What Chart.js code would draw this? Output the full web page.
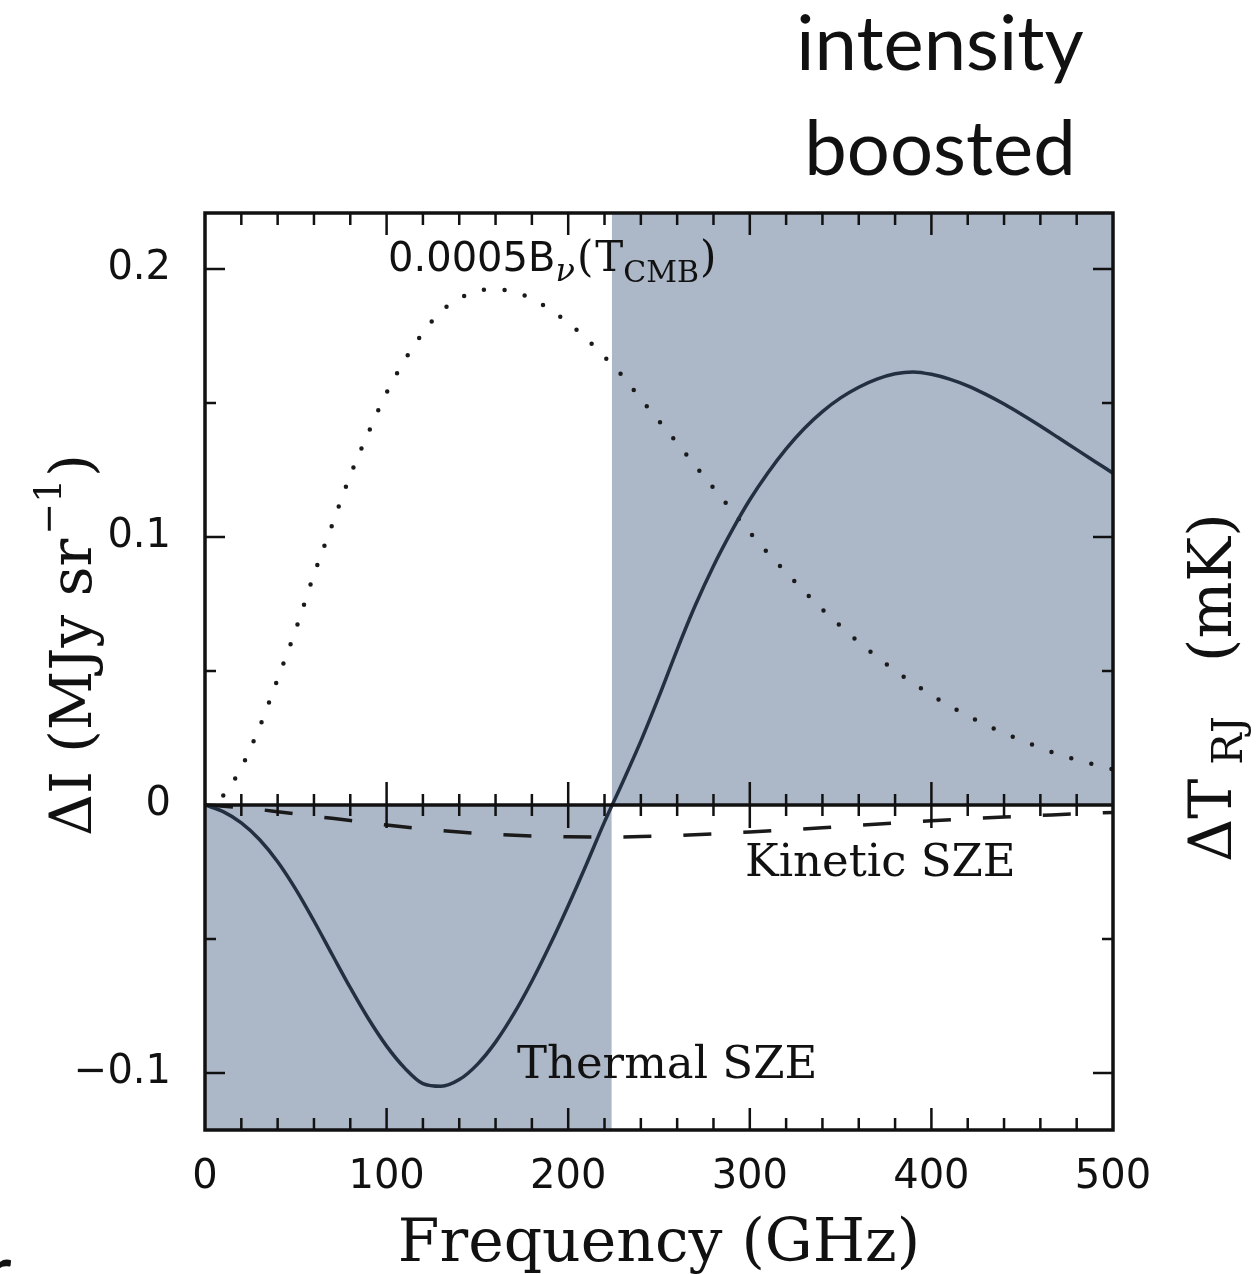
<!DOCTYPE html>
<html>
<head>
<meta charset="utf-8">
<script src="https://cdn.jsdelivr.net/npm/chart.js@4.4.1/dist/chart.umd.min.js"></script>
<style>
  html, body { margin: 0; padding: 0; background: #fff; }
  #wrap { width: 1257px; height: 1274px; position: relative; overflow: hidden; }
</style>
</head>
<body>
<div id="wrap"><canvas id="chart" width="1257" height="1274"></canvas></div>
<script>
// frequency grid (GHz) for thermal SZE and scaled CMB blackbody
const freq = [0, 10, 20, 30, 40, 50, 60, 70, 80, 90, 100, 110, 120, 130, 140, 150, 160, 170, 180, 190,
  200, 210, 220, 230, 240, 250, 260, 270, 280, 290, 300, 310, 320, 330, 340, 350, 360, 370, 380, 390,
  400, 410, 420, 430, 440, 450, 460, 470, 480, 490, 500];

// thermal SZE, MJy/sr
const thermal = [0, -0.0025, -0.0067, -0.0129, -0.0212, -0.0315, -0.0433, -0.0558, -0.0682, -0.0798,
  -0.09, -0.0982, -0.104, -0.105, -0.1025, -0.0968, -0.0885, -0.078, -0.0658, -0.0522,
  -0.0376, -0.0222, -0.0063, 0.0085, 0.0238, 0.0405, 0.058, 0.0745, 0.0892, 0.1022,
  0.1139, 0.124, 0.1329, 0.1405, 0.1468, 0.1519, 0.1559, 0.1589, 0.1609, 0.1616,
  0.1607, 0.1589, 0.1564, 0.1532, 0.1496, 0.1456, 0.1414, 0.137, 0.1326, 0.1282, 0.1238];

// 0.0005 B_nu(T_CMB)
const blackbody = [0, 0.0035, 0.014, 0.029, 0.047, 0.0655, 0.086, 0.1045, 0.123, 0.139,
  0.1538, 0.166, 0.1762, 0.1842, 0.189, 0.1918, 0.1925, 0.1914, 0.189, 0.1848,
  0.18, 0.174, 0.1672, 0.160, 0.1515, 0.1433, 0.1351, 0.1266, 0.1183, 0.110,
  0.1017, 0.094, 0.0868, 0.0797, 0.0729, 0.0667, 0.0608, 0.0553, 0.0501, 0.0454,
  0.041, 0.037, 0.0333, 0.0299, 0.0268, 0.024, 0.0213, 0.0189, 0.0168, 0.015, 0.0133];

// kinetic SZE
const kineticFreq = [0, 20, 40, 60, 80, 100, 120, 140, 160, 180, 200, 220, 240, 260, 280, 300,
  320, 340, 360, 380, 400, 420, 440, 460, 480, 500];
const kinetic = [0, -0.001, -0.0025, -0.0042, -0.0058, -0.0075, -0.0089, -0.0101, -0.011, -0.0116,
  -0.0119, -0.012, -0.0118, -0.0114, -0.0108, -0.0101, -0.0093, -0.0085, -0.0076, -0.0067,
  -0.0059, -0.0052, -0.0045, -0.0039, -0.0033, -0.0028];

// where thermal SZE changes sign (shading boundary)
const crossFreq = 224;

const xTicks = [0, 100, 200, 300, 400, 500];
const yTicks = [-0.1, 0, 0.1, 0.2];

const shade = '#acb8c8';
const ink = '#111';

const pts = (xs, ys) => xs.map((x, i) => ({ x: x, y: ys[i] }));

// box, zero line and inward tick marks
const framePlugin = {
  id: 'frame',
  afterDatasetsDraw(chart) {
    const { ctx, chartArea: a, scales: { x, y } } = chart;
    const y0 = y.getPixelForValue(0);
    ctx.save();
    ctx.strokeStyle = ink;
    ctx.lineWidth = 3.5;
    ctx.strokeRect(a.left, a.top, a.right - a.left, a.bottom - a.top);
    ctx.beginPath();
    ctx.moveTo(a.left, y0);
    ctx.lineTo(a.right, y0);
    ctx.stroke();

    ctx.lineWidth = 2.5;
    ctx.beginPath();
    for (let f = 20; f < 500; f += 20) {
      const px = x.getPixelForValue(f);
      const big = f % 100 === 0;
      const len = big ? 22 : 12;
      ctx.moveTo(px, a.bottom); ctx.lineTo(px, a.bottom - len);
      ctx.moveTo(px, a.top); ctx.lineTo(px, a.top + len);
      ctx.moveTo(px, y0 - (big ? 23 : 11)); ctx.lineTo(px, y0 + (big ? 23 : 11));
    }
    for (let k = -2; k <= 4; k++) {
      if (k === 0) continue;
      const py = y.getPixelForValue(k * 0.05);
      const len = k % 2 === 0 ? 20 : 11;
      ctx.moveTo(a.left, py); ctx.lineTo(a.left + len, py);
      ctx.moveTo(a.right, py); ctx.lineTo(a.right - len, py);
    }
    ctx.stroke();
    ctx.restore();
  }
};

// axis titles, curve labels and the slide caption
const textPlugin = {
  id: 'texts',
  afterDraw(chart) {
    const { ctx, chartArea: a, scales: { x, y } } = chart;
    ctx.save();
    ctx.fillStyle = ink;
    ctx.textBaseline = 'alphabetic';
    ctx.textAlign = 'left';

    // x title
    ctx.font = '60px "DejaVu Serif"';
    ctx.textAlign = 'center';
    ctx.fillText('Frequency (GHz)', (a.left + a.right) / 2, 1261);
    ctx.textAlign = 'left';

    // left y title, rotated
    ctx.save();
    ctx.translate(91, 836);
    ctx.rotate(-Math.PI / 2);
    ctx.font = '58px "DejaVu Serif"';
    let s = 'ΔI (MJy sr';
    ctx.fillText(s, 0, 0);
    let w = ctx.measureText(s).width;
    ctx.font = '38px "DejaVu Serif"';
    ctx.fillText('−1', w + 4, -30);
    w += 4 + ctx.measureText('−1').width;
    ctx.font = '58px "DejaVu Serif"';
    ctx.fillText(')', w + 2, 0);
    ctx.restore();

    // right y title, rotated
    ctx.save();
    ctx.translate(1231, 862);
    ctx.rotate(-Math.PI / 2);
    ctx.font = '60px "DejaVu Serif"';
    ctx.fillText('ΔT', 0, 0);
    w = ctx.measureText('ΔT').width;
    ctx.font = '42px "DejaVu Serif"';
    ctx.fillText('RJ', w + 14, 11);
    ctx.font = '60px "DejaVu Serif"';
    ctx.fillText('(mK)', 200, 0);
    ctx.restore();

    // 0.0005 B_nu(T_CMB)
    let px = x.getPixelForValue(100.8);
    let py = y.getPixelForValue(0.1993);
    ctx.font = '40px "DejaVu Sans"';
    ctx.fillText('0.0005B', px, py);
    px += ctx.measureText('0.0005B').width;
    ctx.font = 'italic 32px "DejaVu Serif"';
    ctx.fillText('ν', px, py + 10);
    px += ctx.measureText('ν').width + 2;
    ctx.font = '42px "DejaVu Serif"';
    ctx.fillText('(', px, py);
    px += ctx.measureText('(').width + 2;
    ctx.fillText('T', px, py);
    px += ctx.measureText('T').width;
    ctx.font = '30px "DejaVu Serif"';
    ctx.fillText('CMB', px, py + 11);
    px += ctx.measureText('CMB').width + 1;
    ctx.font = '42px "DejaVu Serif"';
    ctx.fillText(')', px, py);

    // curve labels
    ctx.font = '45px "DejaVu Serif"';
    ctx.fillText('Kinetic SZE', x.getPixelForValue(297.4), y.getPixelForValue(-0.0265));
    ctx.fillText('Thermal SZE', x.getPixelForValue(171.8), y.getPixelForValue(-0.1019));

    // caption above the plot
    ctx.font = '76px Lato';
    ctx.textAlign = 'center';
    ctx.fillText('intensity', 940, 70);
    ctx.fillText('boosted', 940, 175);
    ctx.textAlign = 'left';
    ctx.fillText('r', -16, 1298);
    ctx.restore();
  }
};

new Chart(document.getElementById('chart'), {
  type: 'line',
  data: {
    datasets: [
      {
        label: 'Thermal SZE',
        data: pts(freq, thermal),
        borderColor: '#223042',
        borderWidth: 3.5,
        pointRadius: 0,
        cubicInterpolationMode: 'monotone',
        fill: false,
        order: 1
      },
      {
        label: 'Kinetic SZE',
        data: pts(kineticFreq, kinetic),
        borderColor: '#1a1a1a',
        borderWidth: 3.5,
        borderDash: [28, 32],
        pointRadius: 0,
        cubicInterpolationMode: 'monotone',
        fill: false,
        order: 2
      },
      {
        label: '0.0005 B_nu(T_CMB)',
        data: pts(freq, blackbody),
        borderColor: '#1a1a1a',
        borderWidth: 4.5,
        borderDash: [0, 20.8],
        borderCapStyle: 'round',
        pointRadius: 0,
        cubicInterpolationMode: 'monotone',
        fill: false,
        order: 3
      },
      {
        label: 'decrement',
        data: pts([0, crossFreq], [0, 0]),
        borderWidth: 0,
        backgroundColor: shade,
        pointRadius: 0,
        fill: 'start',
        order: 10
      },
      {
        label: 'boost',
        data: pts([crossFreq, 500], [0, 0]),
        borderWidth: 0,
        backgroundColor: shade,
        pointRadius: 0,
        fill: 'end',
        order: 11
      }
    ]
  },
  options: {
    responsive: false,
    animation: false,
    devicePixelRatio: 1,
    layout: { padding: { top: 213, left: 0, right: 0, bottom: 0 } },
    plugins: { legend: { display: false }, tooltip: { enabled: false } },
    scales: {
      x: {
        type: 'linear',
        min: 0,
        max: 500,
        grid: { display: false, drawTicks: false },
        border: { display: false },
        afterBuildTicks: s => { s.ticks = xTicks.map(v => ({ value: v })); },
        afterFit: s => { s.height = 144; },
        ticks: {
          color: ink,
          font: { family: 'DejaVu Sans', size: 40 },
          padding: 24,
          maxRotation: 0,
          autoSkip: false
        }
      },
      y: {
        type: 'linear',
        position: 'left',
        min: -0.1213,
        max: 0.2209,
        grid: { display: false, drawTicks: false },
        border: { display: false },
        afterBuildTicks: s => { s.ticks = yTicks.map(v => ({ value: v })); },
        afterFit: s => { s.width = 205; },
        ticks: {
          color: ink,
          font: { family: 'DejaVu Sans', size: 40 },
          padding: 34,
          autoSkip: false,
          callback: v => v === 0 ? '0' : (v < 0 ? '−' + Math.abs(v) : String(v))
        }
      },
      y2: {
        type: 'linear',
        position: 'right',
        min: -0.1213,
        max: 0.2209,
        grid: { display: false, drawTicks: false },
        border: { display: false },
        ticks: { display: false },
        afterFit: s => { s.width = 144; }
      }
    }
  },
  plugins: [framePlugin, textPlugin]
});
</script>
</body>
</html>
